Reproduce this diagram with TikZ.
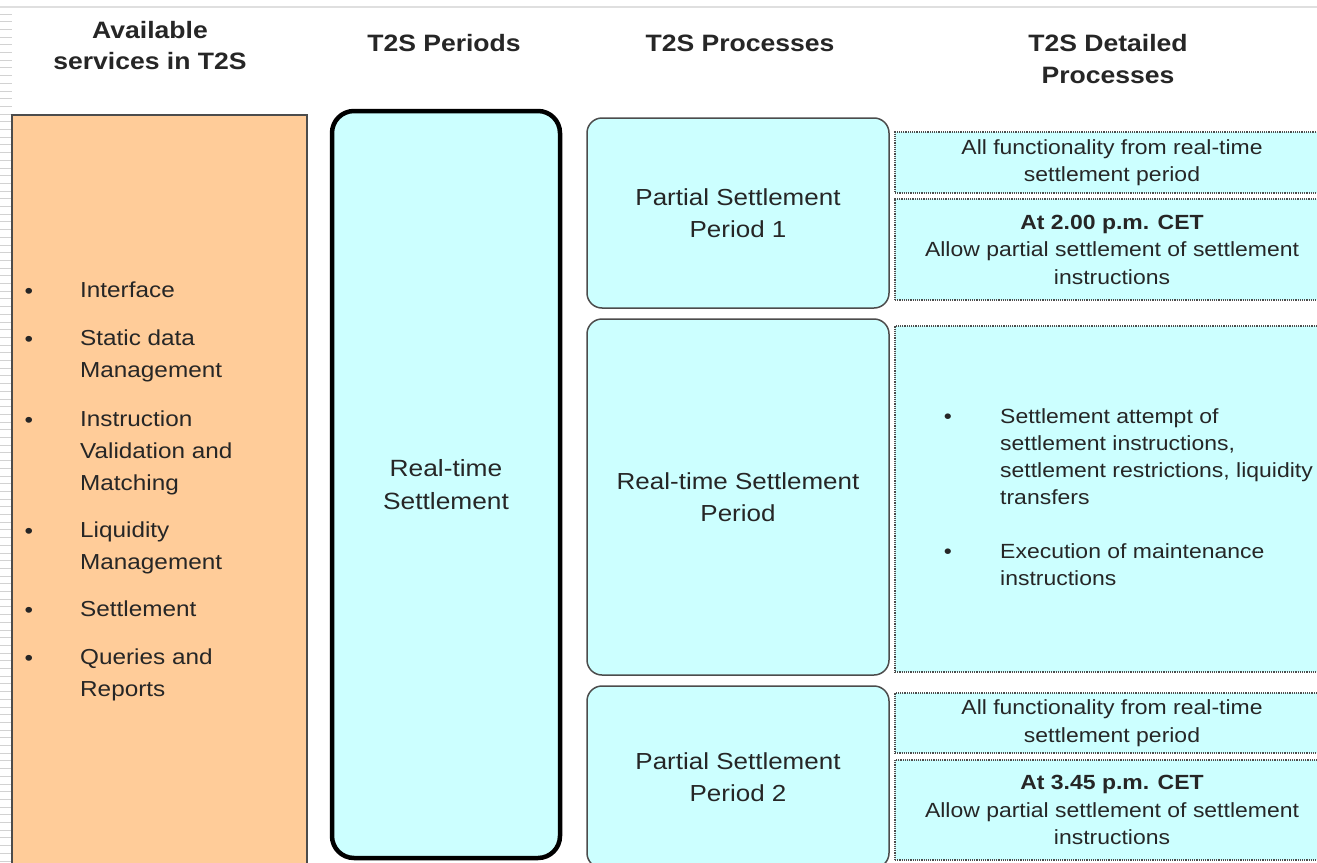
\documentclass[tikz,border=0pt]{standalone}
\usepackage{fontspec}
\setmainfont[FakeStretch=1.12]{Liberation Sans}
\definecolor{orangebox}{HTML}{FFCC99}
\definecolor{cyanbox}{HTML}{CCFFFF}
\definecolor{ink}{HTML}{262626}
\begin{document}
\begin{tikzpicture}[x=1pt, y=-1pt,
    H/.style={font=\bfseries\fontsize{23.7}{31.5}\selectfont, align=center, text=ink, inner sep=0},
    S/.style={draw=black!70, line width=1.5pt, fill=orangebox, inner sep=0},
    R/.style={draw=black, line width=4.5pt, fill=cyanbox, rounded corners=22pt, inner sep=0,
      font=\fontsize{23.5}{33}\selectfont, align=center, text=ink},
    P/.style={draw=black!70, line width=1.5pt, fill=cyanbox, rounded corners=15pt, inner sep=0,
      font=\fontsize{23.2}{32}\selectfont, align=center, text=ink},
    D/.style={draw=black!70, densely dotted, line width=1.2pt, fill=cyanbox, inner sep=0,
      font=\fontsize{20.5}{27.5}\selectfont, align=center, text=ink},
    I/.style={font=\fontsize{21.7}{32}\selectfont, align=left, text=ink, inner sep=0, anchor=north west},
    B/.style={font=\fontsize{21.7}{32}\selectfont, text=ink, inner sep=0, anchor=base},
    DI/.style={font=\fontsize{20.5}{27}\selectfont, align=left, text=ink, inner sep=0, anchor=north west},
    DB/.style={font=\fontsize{20.5}{27}\selectfont, text=ink, inner sep=0, anchor=base}]
  \useasboundingbox (0,0) rectangle (1317,862);
  \clip (0,0) rectangle (1317,862);
  \fill[white] (0,0) rectangle (1317,862);
  % frame of the slide
  \draw[gray!25, line width=1.5pt] (0,7) -- (1317,7);
  \foreach \y in {14,21.7,...,862}
    \draw[gray!35, line width=1pt] (0,\y) -- (12,\y);
  % column heads
  \node[H] (hserv) at (150,45.5) {Available\\services in T2S};
  \node[H] (hper) at (444,43) {T2S Periods};
  \node[H] (hproc) at (740,43) {T2S Processes};
  \node[H] (hdet) at (1108,59) {T2S Detailed\\Processes};
  % services
  \node[S, minimum width=295pt, minimum height=755pt] (serv) at (159.5,492.5) {};
  \node[B] (b1) at (29,298) {\textbullet};
  \node[I] (s1) at (80,282) {Interface};
  \node[B] (b2) at (29,346) {\textbullet};
  \node[I] (s2) at (80,330) {Static data\\Management};
  \node[B] (b3) at (29,427) {\textbullet};
  \node[I] (s3) at (80,411) {Instruction\\Validation and\\Matching};
  \node[B] (b4) at (29,538) {\textbullet};
  \node[I] (s4) at (80,522) {Liquidity\\Management};
  \node[B] (b5) at (29,617) {\textbullet};
  \node[I] (s5) at (80,601) {Settlement};
  \node[B] (b6) at (29,665) {\textbullet};
  \node[I] (s6) at (80,649) {Queries and\\Reports};
  % periods
  \node[R, minimum width=228pt, minimum height=747pt] (rts) at (446,484.5) {Real-time\\Settlement};
  % processes
  \node[P, minimum width=302pt, minimum height=190pt] (psp1) at (738,213) {Partial Settlement\\Period 1};
  \node[P, minimum width=302pt, minimum height=356pt] (rtsp) at (738,497) {Real-time Settlement\\Period};
  \node[P, minimum width=302pt, minimum height=182pt] (psp2) at (738,777) {Partial Settlement\\Period 2};
  % detailed processes
  \node[D, minimum width=434pt, minimum height=61pt] (d1) at (1112,162.5) {All functionality from real-time\\settlement period};
  \node[D, minimum width=434pt, minimum height=101pt] (d2) at (1112,249.5) {\textbf{At 2.00 p.m. CET}\\Allow partial settlement of settlement\\instructions};
  \node[D, minimum width=434pt, minimum height=346pt] (d3) at (1112,499) {};
  \node[DB] (db1) at (948,423) {\textbullet};
  \node[DI] (dt1) at (1000,408) {Settlement attempt of\\settlement instructions,\\settlement restrictions, liquidity\\transfers};
  \node[DB] (db2) at (948,558) {\textbullet};
  \node[DI] (dt2) at (1000,543) {Execution of maintenance\\instructions};
  \node[D, minimum width=434pt, minimum height=60pt] (d4) at (1112,723) {All functionality from real-time\\settlement period};
  \node[D, minimum width=434pt, minimum height=100pt] (d5) at (1112,810) {\textbf{At 3.45 p.m. CET}\\Allow partial settlement of settlement\\instructions};
\end{tikzpicture}
\end{document}
